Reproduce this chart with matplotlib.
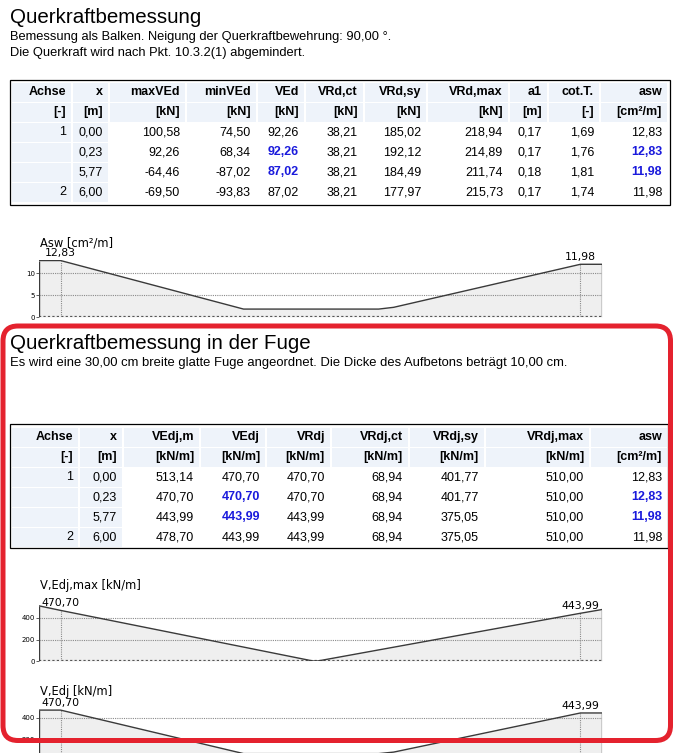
import matplotlib
matplotlib.use("Agg")
import matplotlib.pyplot as plt
from matplotlib.patches import Rectangle, FancyBboxPatch

# ---------------- data ----------------
t1_headers = ['Achse', 'x', 'maxVEd', 'minVEd', 'VEd', 'VRd,ct', 'VRd,sy', 'VRd,max', 'a1', 'cot.T.', 'asw']
t1_units = ['[-]', '[m]', '[kN]', '[kN]', '[kN]', '[kN]', '[kN]', '[kN]', '[m]', '[-]', '[cm²/m]']
achse = ['1', '', '', '2']
x_pos = [0.00, 0.23, 5.77, 6.00]
maxVEd = [100.58, 92.26, -64.46, -69.50]
minVEd = [74.50, 68.34, -87.02, -93.83]
VEd = [92.26, 92.26, 87.02, 87.02]
VRd_ct = [38.21, 38.21, 38.21, 38.21]
VRd_sy = [185.02, 192.12, 184.49, 177.97]
VRd_max = [218.94, 214.89, 211.74, 215.73]
a1 = [0.17, 0.17, 0.18, 0.17]
cotT = [1.69, 1.76, 1.81, 1.74]
asw = [12.83, 12.83, 11.98, 11.98]

t2_headers = ['Achse', 'x', 'VEdj,m', 'VEdj', 'VRdj', 'VRdj,ct', 'VRdj,sy', 'VRdj,max', 'asw']
t2_units = ['[-]', '[m]', '[kN/m]', '[kN/m]', '[kN/m]', '[kN/m]', '[kN/m]', '[kN/m]', '[cm²/m]']
VEdj_m = [513.14, 470.70, 443.99, 478.70]
VEdj = [470.70, 470.70, 443.99, 443.99]
VRdj = [470.70, 470.70, 443.99, 443.99]
VRdj_ct = [68.94, 68.94, 68.94, 68.94]
VRdj_sy = [401.77, 401.77, 375.05, 375.05]
VRdj_max = [510.00, 510.00, 510.00, 510.00]
asw2 = [12.83, 12.83, 11.98, 11.98]

# diagram curves
asw_x = [0.0, 0.23, 2.18, 3.62, 3.78, 5.77, 6.0]
asw_y = [12.83, 12.83, 1.8, 1.8, 2.2, 11.98, 11.98]
vmax_x = [0.0, 0.23, 2.92, 2.97, 5.77, 6.0]
vmax_y = [513.14, 470.70, 0.0, 0.0, 443.99, 478.70]
vedj_x = [0.0, 0.23, 2.18, 3.62, 3.78, 5.77, 6.0]
vedj_y = [470.70, 470.70, 66.0, 66.0, 80.0, 443.99, 443.99]


def fmt(v):
    return f"{v:.2f}".replace('.', ',')


W, H = 676, 753
fig = plt.figure(figsize=(W / 100, H / 100), dpi=100)
fig.patch.set_facecolor('white')

SANS = ['Liberation Sans', 'DejaVu Sans']
BLUE = '#1a1adc'
CELL = '#eef3fa'

ov = fig.add_axes([0, 0, 1, 1])
ov.set_xlim(0, W)
ov.set_ylim(H, 0)
ov.axis('off')
ov.patch.set_alpha(0)
ov.set_zorder(10)


def txt(x, y, s, size=9, ha='left', weight='normal', color='black'):
    ov.text(x, y, s, fontsize=size, ha=ha, va='center', family=SANS,
            fontweight=weight, color=color)


def table(top, bottom, right_border, rights, header_y, unit_y, row_ys, headers, units, cols, blue):
    ov.add_patch(Rectangle((10, top), right_border - 10, bottom - top, fill=False,
                           edgecolor='black', lw=0.9))
    lefts = [12] + [r + 7 for r in rights[:-1]]
    for yc in (header_y, unit_y):
        for l, r in zip(lefts, rights):
            ov.add_patch(Rectangle((l, yc - 9.5), r + 5 - l, 19, facecolor=CELL, lw=0))
    for yc in row_ys:
        for l, r in list(zip(lefts, rights))[:2]:
            ov.add_patch(Rectangle((l, yc - 9.5), r + 5 - l, 19, facecolor=CELL, lw=0))
    for h, u, r in zip(headers, units, rights):
        txt(r, header_y, h, ha='right', weight='bold')
        txt(r, unit_y, u, ha='right', weight='bold')
    for ci, (col, r) in enumerate(zip(cols, rights)):
        for ri, (v, yc) in enumerate(zip(col, row_ys)):
            s = v if isinstance(v, str) else fmt(v)
            if (ci, ri) in blue:
                txt(r, yc, s, ha='right', weight='bold', color=BLUE)
            else:
                txt(r, yc, s, ha='right')


# ---------------- section 1 ----------------
txt(10, 17, 'Querkraftbemessung', size=14.8)
txt(10, 37, 'Bemessung als Balken. Neigung der Querkraftbewehrung: 90,00 °.', size=9.3)
txt(10, 53, 'Die Querkraft wird nach Pkt. 10.3.2(1) abgemindert.', size=9.3)

r1 = [66, 103, 180, 251, 299, 358, 421, 503, 542, 594, 662]
table(80, 205, 670, r1, 92, 112, [132, 152, 172, 192], t1_headers, t1_units,
      [achse, x_pos, maxVEd, minVEd, VEd, VRd_ct, VRd_sy, VRd_max, a1, cotT, asw],
      {(4, 1), (4, 2), (10, 1), (10, 2)})

# ---------------- section 2 ----------------
txt(10, 343, 'Querkraftbemessung in der Fuge', size=14.8)
txt(10, 363, 'Es wird eine 30,00 cm breite glatte Fuge angeordnet. Die Dicke des Aufbetons beträgt 10,00 cm.', size=9.4)

r2 = [73, 117, 194, 260, 325, 403, 479, 584, 662]
table(424, 548, 668, r2, 437, 457, [477, 497, 517, 537], t2_headers, t2_units,
      [achse, x_pos, VEdj_m, VEdj, VRdj, VRdj_ct, VRdj_sy, VRdj_max, asw2],
      {(3, 1), (3, 2), (8, 1), (8, 2)})

# ---------------- diagrams ----------------
X0, X1 = 39, 602


def chart(ybot, ymax, pxu, xs, ys, yticks, ticklabels, marks):
    ytop = ybot - ymax * pxu
    ax = fig.add_axes([X0 / W, 1 - ybot / H, (X1 - X0) / W, (ybot - ytop) / H])
    ax.set_xlim(0, 6)
    ax.set_ylim(0, ymax)
    ax.patch.set_alpha(0)
    for s in ax.spines.values():
        s.set_visible(False)
    ax.fill_between(xs, ys, 0, color='#efefef', lw=0, zorder=1)
    for yt in yticks[1:]:
        ax.axhline(yt, color='#8a8a8a', lw=0.8, ls=(0, (1, 1)), zorder=2)
    ax.axhline(0, color='#555555', lw=1.6, ls=(0, (1, 1)), zorder=2)
    ax.plot(xs, ys, color='#3a3a3a', lw=1, zorder=3)
    ax.vlines([xs[0], xs[-1]], 0, [ys[0], ys[-1]], color='#3a3a3a', lw=1, zorder=3)
    for mx, mv in marks:
        ax.vlines(mx, 0, mv, color='#8a8a8a', lw=0.8, ls=(0, (1, 1)), zorder=2)
        ax.annotate(fmt(mv), (mx, mv), xytext=(0, 1.5), textcoords='offset points',
                    ha='center', va='bottom', fontsize=7.8, family='DejaVu Sans')
    ax.set_xticks([])
    ax.set_yticks(yticks)
    ax.set_yticklabels(ticklabels, fontsize=5, family='DejaVu Sans')
    ax.tick_params(axis='y', length=2, width=0.6, pad=1, color='#444444')
    return ax


chart(317, 13.0, 4.4, asw_x, asw_y, [0, 5, 10], ['0', '5', '10'],
      [(0.23, 12.83), (5.77, 11.98)])
chart(661, 520, 0.1075, vmax_x, vmax_y, [0, 200, 400], ['0', '200', '400'],
      [(0.23, 470.70), (5.77, 443.99)])
chart(760.7, 520, 0.1075, vedj_x, vedj_y, [0, 200, 400], ['', '200', '400'],
      [(0.23, 470.70), (5.77, 443.99)])

for yy, s in [(243, 'Asw [cm²/m]'), (586, 'V,Edj,max [kN/m]'), (691, 'V,Edj [kN/m]')]:
    ov.text(40, yy, s, fontsize=8.3, family='DejaVu Sans', ha='left', va='center')

# ---------------- red highlight ----------------
ov.add_patch(FancyBboxPatch((3, 326), 667.5, 414.5,
                            boxstyle='round,pad=0,rounding_size=15',
                            fill=False, edgecolor='#e4222e', lw=3.6, zorder=20))

fig.savefig('out.png', dpi=100)
